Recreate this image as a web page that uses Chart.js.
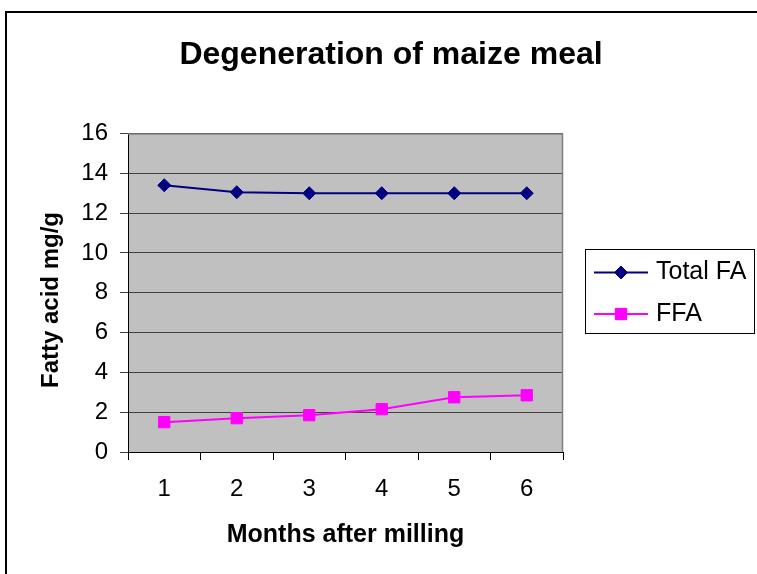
<!DOCTYPE html>
<html>
<head>
<meta charset="utf-8">
<script src="https://cdn.jsdelivr.net/npm/chart.js@4/dist/chart.umd.min.js"></script>
<style>
  html, body { margin: 0; padding: 0; background: #fff; }
  #c { display: block; }
</style>
</head>
<body>
<canvas id="c" width="757" height="574"></canvas>
<script>
const chartTitle = 'Degeneration of maize meal';
const months = ['1', '2', '3', '4', '5', '6'];
const totalFA = [13.4, 13.05, 13.0, 13.0, 13.0, 13.0];
const ffa = [1.5, 1.7, 1.85, 2.15, 2.75, 2.85];
const seriesNames = ['Total FA', 'FFA'];
const xTitle = 'Months after milling';
const yTitle = 'Fatty acid mg/g';

const FONT = '"Liberation Sans", Arial, sans-serif';

const decor = {
  id: 'decor',
  beforeDraw(chart) {
    const { ctx, chartArea: a } = chart;
    ctx.save();
    ctx.fillStyle = '#ffffff';
    ctx.fillRect(0, 0, chart.width, chart.height);
    ctx.fillStyle = '#c0c0c0';
    ctx.fillRect(a.left, a.top, a.right - a.left, a.bottom - a.top);
    ctx.restore();
  },
  beforeDatasetsDraw(chart) {
    const { ctx, chartArea: a } = chart;
    ctx.save();
    ctx.strokeStyle = '#808080';
    ctx.lineWidth = 1.5;
    ctx.beginPath();
    ctx.moveTo(a.left, a.top + 0.5);
    ctx.lineTo(a.right - 0.5, a.top + 0.5);
    ctx.lineTo(a.right - 0.5, a.bottom);
    ctx.stroke();
    ctx.restore();
  },
  afterDraw(chart) {
    const { ctx } = chart;
    ctx.save();
    // main title
    ctx.fillStyle = '#000';
    ctx.font = 'bold 32px ' + FONT;
    ctx.textAlign = 'center';
    ctx.textBaseline = 'alphabetic';
    ctx.fillText(chartTitle, 391, 64);

    // y axis title
    ctx.save();
    ctx.translate(51, 300);
    ctx.rotate(-Math.PI / 2);
    ctx.font = 'bold 24px ' + FONT;
    ctx.textAlign = 'center';
    ctx.textBaseline = 'middle';
    ctx.fillText(yTitle, 0, 0);
    ctx.restore();

    // legend
    ctx.strokeStyle = '#000';
    ctx.lineWidth = 1;
    ctx.strokeRect(585.5, 249.5, 169, 84);
    const rows = [
      { y: 272.5, color: '#000080', style: 'rectRot', r: 6.5 },
      { y: 314, color: '#ff00ff', style: 'rect', r: 8 }
    ];
    rows.forEach((row, i) => {
      ctx.strokeStyle = row.color;
      ctx.lineWidth = 2;
      ctx.beginPath();
      ctx.moveTo(594, row.y);
      ctx.lineTo(648, row.y);
      ctx.stroke();
      ctx.fillStyle = row.color;
      ctx.lineWidth = 1;
      Chart.helpers.drawPoint(ctx, { pointStyle: row.style, radius: row.r, rotation: 0, borderWidth: 1 }, 621, row.y);
      ctx.fill();
      ctx.fillStyle = '#000';
      ctx.font = '25px ' + FONT;
      ctx.textAlign = 'left';
      ctx.textBaseline = 'middle';
      ctx.fillText(seriesNames[i], 656, row.y);
    });

    // outer border
    ctx.strokeStyle = '#000';
    ctx.lineWidth = 2;
    ctx.strokeRect(6, 12, 800, 700);
    ctx.restore();
  }
};

new Chart(document.getElementById('c'), {
  type: 'line',
  data: {
    labels: months,
    datasets: [
      {
        label: seriesNames[0],
        data: totalFA,
        borderColor: '#000080',
        backgroundColor: '#000080',
        borderWidth: 2,
        pointStyle: 'rectRot',
        pointRadius: 6.5,
        pointBorderWidth: 1,
        tension: 0
      },
      {
        label: seriesNames[1],
        data: ffa,
        borderColor: '#ff00ff',
        backgroundColor: '#ff00ff',
        borderWidth: 2,
        pointStyle: 'rect',
        pointRadius: 8,
        pointBorderWidth: 1,
        tension: 0
      }
    ]
  },
  options: {
    responsive: false,
    animation: false,
    devicePixelRatio: 1,
    layout: { padding: { top: 133.5, right: 194, bottom: 0, left: 0 } },
    plugins: {
      legend: { display: false },
      title: { display: false },
      tooltip: { enabled: false }
    },
    scales: {
      x: {
        offset: true,
        afterFit(scale) { scale.height = 122; },
        grid: {
          offset: true,
          drawOnChartArea: false,
          drawTicks: true,
          tickLength: 8,
          color: '#000'
        },
        border: { display: true, color: '#000', width: 1 },
        ticks: {
          color: '#000',
          font: { family: FONT, size: 24 },
          padding: 15,
          maxRotation: 0
        },
        title: {
          display: true,
          text: xTitle,
          color: '#000',
          font: { family: FONT, size: 25, weight: 'bold' },
          padding: { top: 0, bottom: 24 }
        }
      },
      y: {
        min: 0,
        max: 16,
        afterFit(scale) { scale.width = 128; },
        grid: {
          color: '#404040',
          lineWidth: 1,
          drawTicks: true,
          tickLength: 8
        },
        border: { display: true, color: '#000', width: 1 },
        ticks: {
          stepSize: 2,
          color: '#000',
          font: { family: FONT, size: 24 },
          padding: 12
        },
        title: { display: false }
      }
    }
  },
  plugins: [decor]
});
</script>
</body>
</html>
